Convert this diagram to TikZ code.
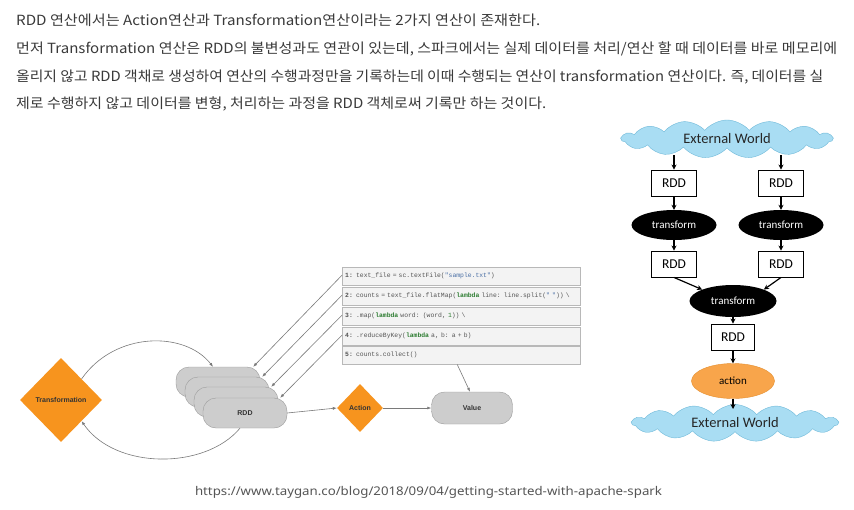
\documentclass[tikz,border=0pt]{standalone}
\usepackage{graphicx}
\usepackage{fontspec}
\setmainfont{Noto Sans CJK KR}
\newfontfamily\calfont{Carlito}
\newfontfamily\codefont{Liberation Mono}
\newfontfamily\labfont{Liberation Sans}
\newfontfamily\urlfont{Noto Sans}
\usetikzlibrary{shapes.geometric,shapes.symbols,arrows.meta}
\definecolor{txt}{HTML}{3A3A3A}
\definecolor{urltxt}{HTML}{555555}
\definecolor{orng}{HTML}{F7941E}
\definecolor{pillfill}{HTML}{CDCDCD}
\definecolor{pilldraw}{HTML}{9A9A9A}
\definecolor{labtxt}{HTML}{333333}
\definecolor{codefill}{HTML}{F3F3F3}
\definecolor{codedraw}{HTML}{B8B8B8}
\definecolor{codetxt}{HTML}{555555}
\definecolor{kw}{HTML}{2E7D32}
\definecolor{strc}{HTML}{4A6FA5}
\definecolor{garrow}{HTML}{7A7A7A}
\definecolor{cloudfill}{HTML}{A9DDF3}
\definecolor{clouddraw}{HTML}{6FB9D9}
\definecolor{actfill}{HTML}{F8A54B}
\definecolor{actdraw}{HTML}{E58F2F}
\newcommand\kwd[1]{\textcolor{kw}{\bfseries #1}}
\newcommand\strg[1]{\textcolor{strc}{#1}}
\newcommand\lnum[1]{{\bfseries #1}}
\newcommand\fitw[2]{\resizebox{#1}{\height}{#2}}
\begin{document}
\begin{tikzpicture}[x=1pt,y=-1pt,
  toptext/.style={anchor=base west,inner sep=0,text=txt,font=\fontsize{14}{16}\selectfont},
  pill/.style={draw=pilldraw,fill=pillfill,rounded corners=13pt,minimum width=84pt,minimum height=30pt,inner sep=0,font=\labfont\bfseries\fontsize{7}{8}\selectfont,text=labtxt},
  odiamond/.style={diamond,aspect=1,fill=orng,inner sep=0,font=\labfont\bfseries\fontsize{7}{8}\selectfont,text=labtxt},
  codebox/.style={anchor=north west,draw=codedraw,fill=codefill,text width=232pt,inner xsep=3pt,inner ysep=0pt,minimum height=18pt,align=left,font=\codefont\fontsize{6.4}{7}\selectfont,text=codetxt},
  garr/.style={draw=garrow,line width=0.6pt,-{Latex[length=4pt,width=3pt]}},
  cloudnode/.style={cloud,cloud puffs=15,cloud puff arc=100,aspect=5.5,draw=clouddraw,fill=cloudfill,inner sep=0,font=\calfont\fontsize{14.5}{16}\selectfont,text=black!85},
  rddbox/.style={draw=black,line width=0.9pt,fill=white,minimum width=45pt,minimum height=26pt,inner sep=0,font=\calfont\fontsize{13.5}{15}\selectfont},
  blackell/.style={ellipse,fill=black,inner sep=0,text=white,font=\calfont\fontsize{11}{12}\selectfont},
  barr/.style={draw=black,line width=1.2pt,-{Stealth[length=5pt,width=5pt]}}
]
\useasboundingbox (0,0) rectangle (854,509);
\fill[white] (0,0) rectangle (854,509);

% ---- top paragraph ----
\node[toptext] (l1) at (16,25) {\fitw{524pt}{RDD 연산에서는 Action연산과 Transformation연산이라는 2가지 연산이 존재한다.}};
\node[toptext] (l2) at (16,53) {\fitw{821pt}{먼저 Transformation 연산은 RDD의 불변성과도 연관이 있는데, 스파크에서는 실제 데이터를 처리/연산 할 때 데이터를 바로 메모리에}};
\node[toptext] (l3) at (16,81) {\fitw{807pt}{올리지 않고 RDD 객채로 생성하여 연산의 수행과정만을 기록하는데 이때 수행되는 연산이 transformation 연산이다. 즉, 데이터를 실}};
\node[toptext] (l4) at (16,108) {\fitw{530pt}{제로 수행하지 않고 데이터를 변형, 처리하는 과정을 RDD 객체로써 기록만 하는 것이다.}};

% ---- URL ----
\node[anchor=base,inner sep=0,text=urltxt,font=\urlfont\fontsize{12}{14}\selectfont] (url) at (428.5,495) {\fitw{467pt}{https://www.taygan.co/blog/2018/09/04/getting-started-with-apache-spark}};

% ---- left diagram ----
\node[odiamond,minimum width=82pt,minimum height=84pt] (tr) at (61,400) {Transformation};
\node[pill] (p1) at (218,382) {};
\node[pill] (p2) at (227,392) {};
\node[pill] (p3) at (236,402) {};
\node[pill] (p4) at (245,413) {RDD};
\node[odiamond,minimum width=46pt,minimum height=48pt] (act) at (360,408) {Action};
\node[pill,minimum width=81pt,minimum height=32pt] (val) at (472,408) {Value};

\node[codebox] (c1) at (342,267) {\lnum{1:} text\_file = sc.textFile(\strg{"sample.txt"})};
\node[codebox] (c2) at (342,287) {\lnum{2:} counts = text\_file.flatMap(\kwd{lambda} line: line.split(\strg{" "})) \textbackslash};
\node[codebox] (c3) at (342,307) {\lnum{3:} .map(\kwd{lambda} word: (word, \textcolor{kw}{1})) \textbackslash};
\node[codebox] (c4) at (342,327) {\lnum{4:} .reduceByKey(\kwd{lambda} a, b: a + b)};
\node[codebox] (c5) at (342,346) {\lnum{5:} counts.collect()};

\draw[garr] ([yshift=1pt]c1.west) -- ([xshift=-7pt]p1.north east);
\draw[garr] ([yshift=1pt]c2.west) -- ([xshift=-7pt]p2.north east);
\draw[garr] ([yshift=1pt]c3.west) -- ([xshift=-7pt]p3.north east);
\draw[garr] ([yshift=1pt]c4.west) -- ([xshift=-7pt]p4.north east);
\draw[garr] ([xshift=-4pt]c5.south) -- ([xshift=-2pt]val.north);
\draw[garr] (p4.east) -- (act.west);
\draw[garr] (act.east) -- (val.west);
\draw[garr] (tr.north east) .. controls (115,331) and (185,331) .. ([xshift=-5pt]p1.north);
\draw[garr] ([xshift=-5pt]p4.south) .. controls (205,470) and (115,470) .. (tr.south east);

% ---- right diagram ----
\node[cloudnode,minimum width=211pt,minimum height=38pt] (w1) at (727,139) {External World};
\node[rddbox] (rl1) at (674,183) {RDD};
\node[rddbox] (rr1) at (781,183) {RDD};
\node[blackell,minimum width=85pt,minimum height=30pt] (tl) at (674,225) {transform};
\node[blackell,minimum width=85pt,minimum height=30pt] (tro) at (781,225) {transform};
\node[rddbox] (rl2) at (674,264) {RDD};
\node[rddbox] (rr2) at (781,264) {RDD};
\node[blackell,minimum width=87pt,minimum height=32pt] (tc) at (733,301) {transform};
\node[rddbox,minimum width=43pt] (r3) at (733,337) {RDD};
\node[ellipse,fill=actfill,draw=actdraw,line width=0.4pt,minimum width=83pt,minimum height=35pt,inner sep=0,font=\calfont\fontsize{11}{12}\selectfont] (ac) at (733,381) {action};
\node[cloudnode,minimum width=206pt,minimum height=37pt] (w2) at (735,423) {External World};

\draw[barr] (674,155) -- (rl1.north);
\draw[barr] (781,155) -- (rr1.north);
\draw[barr] (rl1.south) -- (tl.north);
\draw[barr] (rr1.south) -- (tro.north);
\draw[barr] (tl.south) -- (rl2.north);
\draw[barr] (tro.south) -- (rr2.north);
\draw[barr] (rl2.south) -- (tc.north west);
\draw[barr] (rr2.south) -- (tc.north east);
\draw[barr] (tc.south) -- (r3.north);
\draw[barr] (r3.south) -- (ac.north);
\draw[barr] (ac.south) -- (733,409);
\end{tikzpicture}
\end{document}
